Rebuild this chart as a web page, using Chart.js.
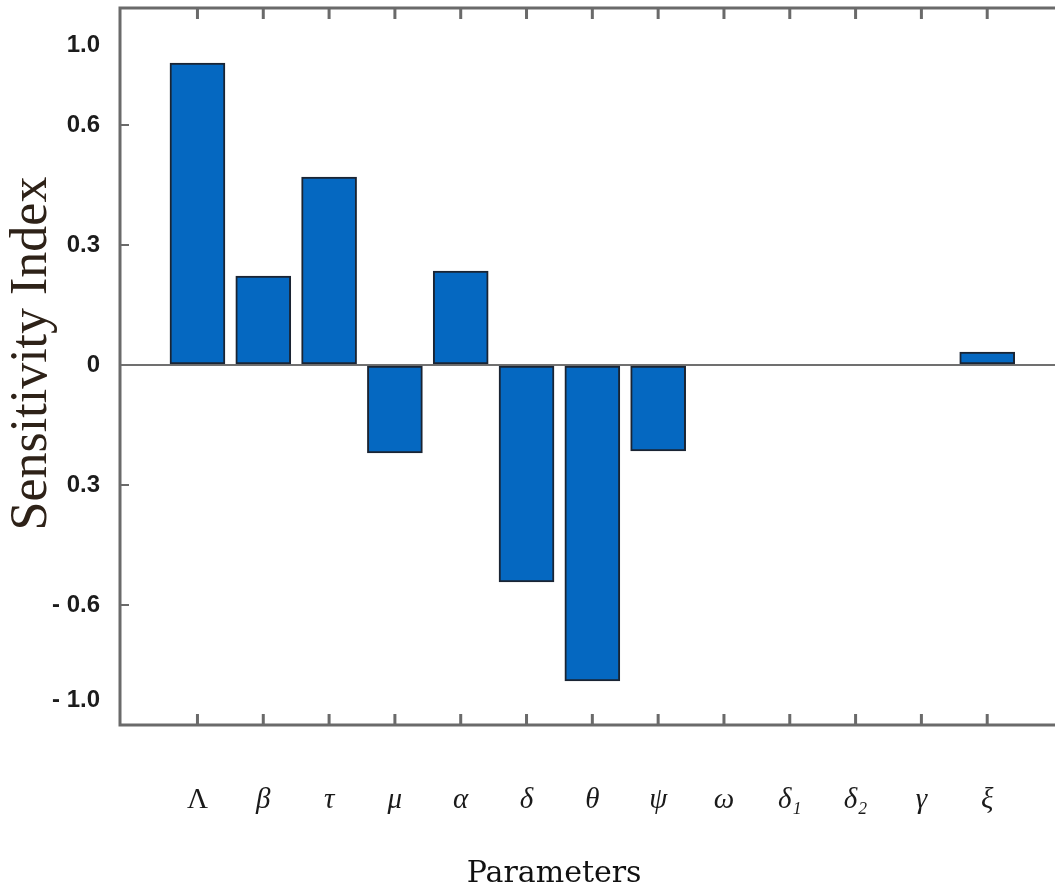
<!DOCTYPE html>
<html><head><meta charset="utf-8">
<script src="https://cdn.jsdelivr.net/npm/chart.js@4.4.0/dist/chart.umd.min.js"></script>
<style>html,body{margin:0;padding:0;background:#fff;overflow:hidden}#wrap{width:1055px;height:894px}</style>
</head><body><div id="wrap"><canvas id="c" width="1055" height="894"></canvas></div>
<script>
const categories = ['Λ','β','τ','μ','α','δ','θ','ψ','ω','δ₁','δ₂','γ','ξ'];
const sensitivity = [0.755, 0.2225, 0.47, -0.22, 0.235, -0.5425, -0.79, -0.215, 0, 0, 0, 0, 0.0325];
const yTickValues = [0.8, 0.6, 0.3, 0, -0.3, -0.6, -0.8375];
const yTickLabels = ['1.0', '0.6', '0.3', '0', '0.3', '- 0.6', '- 1.0'];
const yInnerTickValues = [0.6, 0.3, -0.3, -0.6];

const frameColor = '#6a6a6a';

const framePlugin = {
  id: 'frame',
  afterDatasetsDraw(chart) {
    const {ctx, chartArea: a, scales} = chart;
    ctx.save();
    ctx.strokeStyle = frameColor;
    ctx.lineWidth = 3;
    ctx.beginPath();
    ctx.moveTo(a.right, a.top); ctx.lineTo(a.left, a.top); ctx.lineTo(a.left, a.bottom); ctx.lineTo(a.right, a.bottom);
    ctx.stroke();
    ctx.beginPath();
    categories.forEach((c, i) => {
      const x = scales.x.getPixelForValue(i);
      ctx.moveTo(x, a.top); ctx.lineTo(x, a.top + 11);
      ctx.moveTo(x, a.bottom); ctx.lineTo(x, a.bottom - 11);
    });
    ctx.stroke();
    ctx.lineWidth = 2;
    ctx.beginPath();
    yInnerTickValues.forEach(v => {
      const y = scales.y.getPixelForValue(v);
      ctx.moveTo(a.left, y); ctx.lineTo(a.left + 9, y);
    });
    ctx.stroke();
    ctx.restore();
  }
};

new Chart(document.getElementById('c'), {
  type: 'bar',
  data: {
    datasets: [{
      data: sensitivity.map((v, i) => ({x: i, y: v})),
      backgroundColor: '#0568c1',
      borderColor: '#1a2433',
      borderWidth: 2,
      borderSkipped: false,
      barThickness: 55
    }]
  },
  options: {
    responsive: false,
    animation: false,
    devicePixelRatio: 1,
    layout: {padding: {left: 0, right: 0, top: 8, bottom: 0}},
    plugins: {legend: {display: false}, tooltip: {enabled: false}},
    scales: {
      x: {
        type: 'linear',
        offset: false,
        min: -1.177,
        max: 13.03,
        afterBuildTicks: s => { s.ticks = categories.map((c, i) => ({value: i})); },
        afterFit: s => { s.height = 169; s.paddingLeft = 0; s.paddingRight = 0; },
        grid: {display: false, drawTicks: false},
        border: {display: false},
        ticks: {
          autoSkip: false, maxRotation: 0, padding: 58,
          color: '#1a1a1a',
          font: c => ({family: '"Liberation Serif", "DejaVu Serif", serif',
                       style: (c.tick && c.tick.value === 0) ? 'normal' : 'italic', size: 29}),
          callback: v => categories[Math.round(v)]
        },
        title: {
          display: true, text: 'Parameters       ', color: '#111',
          font: {family: '"DejaVu Serif", serif', size: 30},
          padding: {top: 0, bottom: 2}
        }
      },
      y: {
        min: -0.9,
        max: 0.8925,
        afterBuildTicks: s => { s.ticks = yTickValues.map(v => ({value: v})); },
        afterFit: s => { s.width = 120; s.paddingTop = 0; s.paddingBottom = 0; },
        grid: {
          drawTicks: false,
          lineWidth: 2,
          color: c => (c.tick && c.tick.value === 0) ? '#707070' : 'rgba(0,0,0,0)'
        },
        border: {display: false},
        ticks: {
          padding: 20,
          color: '#1c1c1c',
          font: {family: '"Liberation Sans", Arial, sans-serif', weight: 'bold', size: 24},
          callback: (v, i) => yTickLabels[yTickValues.indexOf(v)]
        },
        title: {
          display: true, text: '  Sensitivity Index', color: '#2e2218',
          font: {family: '"Liberation Serif", "Times New Roman", serif', size: 52},
          padding: {top: 1, bottom: 0}
        }
      }
    }
  },
  plugins: [framePlugin]
});
</script>
</body></html>
